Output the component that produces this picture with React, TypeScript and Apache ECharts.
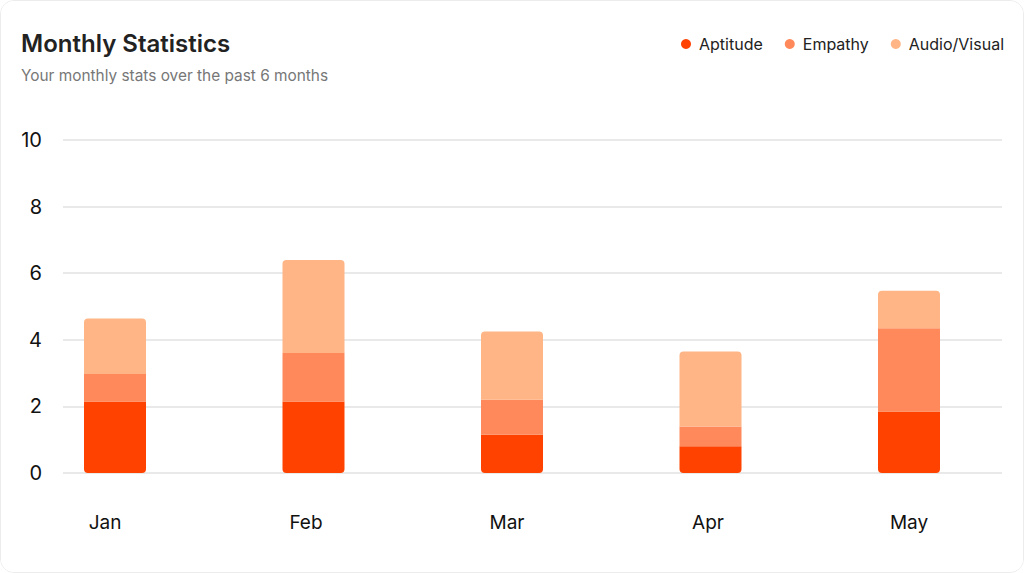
import React, { useEffect, useRef } from "react";
import * as echarts from "echarts";

const months = ["Jan", "Feb", "Mar", "Apr", "May"];
const aptitude = [2.15, 2.15, 1.15, 0.8, 1.85];
const empathy = [0.82, 1.45, 1.05, 0.6, 2.5];
const audioVisual = [1.67, 2.8, 2.05, 2.25, 1.12];
const yTicks = [0, 2, 4, 6, 8, 10];

const COLORS = ["#FF4200", "#FF895A", "#FFB585"];
const FONT = "Inter, 'Noto Sans', sans-serif";

export default function App() {
  const ref = useRef<HTMLDivElement>(null);
  useEffect(() => {
    if (!ref.current) return;
    const chart = echarts.init(ref.current, null, { renderer: "svg" });
    const yMin = yTicks[0];
    const yMax = yTicks[yTicks.length - 1];
    const yInterval = yTicks[1] - yTicks[0];
    chart.setOption({
      animation: false,
      backgroundColor: "#ffffff",
      textStyle: { fontFamily: FONT },
      title: {
        text: "Monthly Statistics",
        subtext: "Your monthly stats over the past 6 months",
        left: 15,
        top: 25,
        itemGap: 13,
        textStyle: { fontFamily: FONT, fontSize: 24, fontWeight: 600, color: "#222" },
        subtextStyle: { fontFamily: FONT, fontSize: 15.4, color: "#777" },
      },
      legend: {
        right: 14,
        top: 30,
        icon: "circle",
        itemWidth: 10,
        itemHeight: 10,
        itemGap: 22,
        textStyle: { fontFamily: FONT, fontSize: 16, color: "#222", padding: [0, 0, 0, 3] },
        data: ["Aptitude", "Empathy", "Audio/Visual"],
      },
      grid: [
        { left: 14.75, right: 14.75, top: 139, bottom: 99 },
        { left: 62, right: 21, top: 139, bottom: 99 },
        { left: 3.5, right: 13.5, top: 139, bottom: 99 },
      ],
      xAxis: [
        { type: "category", gridIndex: 0, data: months, show: false },
        { type: "category", gridIndex: 1, data: months, show: false },
        {
          type: "category",
          gridIndex: 2,
          data: months,
          axisLine: { show: false },
          axisTick: { show: false },
          axisLabel: { margin: 40, fontSize: 19, color: "#111", fontFamily: FONT },
        },
      ],
      yAxis: [
        { type: "value", gridIndex: 0, min: yMin, max: yMax, interval: yInterval, show: false },
        {
          type: "value",
          gridIndex: 1,
          min: yMin,
          max: yMax,
          interval: yInterval,
          axisLine: { show: false },
          axisTick: { show: false },
          axisLabel: { margin: 21, fontSize: 20, color: "#111", fontFamily: FONT },
          splitLine: { lineStyle: { color: "#e2e2e2", width: 1.5 } },
        },
        { type: "value", gridIndex: 2, min: yMin, max: yMax, interval: yInterval, show: false },
      ],
      series: [
        {
          name: "Aptitude",
          type: "bar",
          stack: "s",
          xAxisIndex: 0,
          yAxisIndex: 0,
          barWidth: 62,
          data: aptitude,
          itemStyle: { color: COLORS[0], borderRadius: [0, 0, 4, 4] },
        },
        {
          name: "Empathy",
          type: "bar",
          stack: "s",
          xAxisIndex: 0,
          yAxisIndex: 0,
          barWidth: 62,
          data: empathy,
          itemStyle: { color: COLORS[1] },
        },
        {
          name: "Audio/Visual",
          type: "bar",
          stack: "s",
          xAxisIndex: 0,
          yAxisIndex: 0,
          barWidth: 62,
          data: audioVisual,
          itemStyle: { color: COLORS[2], borderRadius: [4, 4, 0, 0] },
        },
      ],
    });
    return () => chart.dispose();
  }, []);
  return (
    <div
      style={{
        position: "absolute",
        left: 0,
        top: 0,
        width: 1024,
        height: 573,
        background: "#fff",
        boxSizing: "border-box",
        border: "1px solid #ececec",
        borderRadius: 14,
        overflow: "hidden",
      }}
    >
      <div ref={ref} style={{ width: 1022, height: 571 }} />
    </div>
  );
}
